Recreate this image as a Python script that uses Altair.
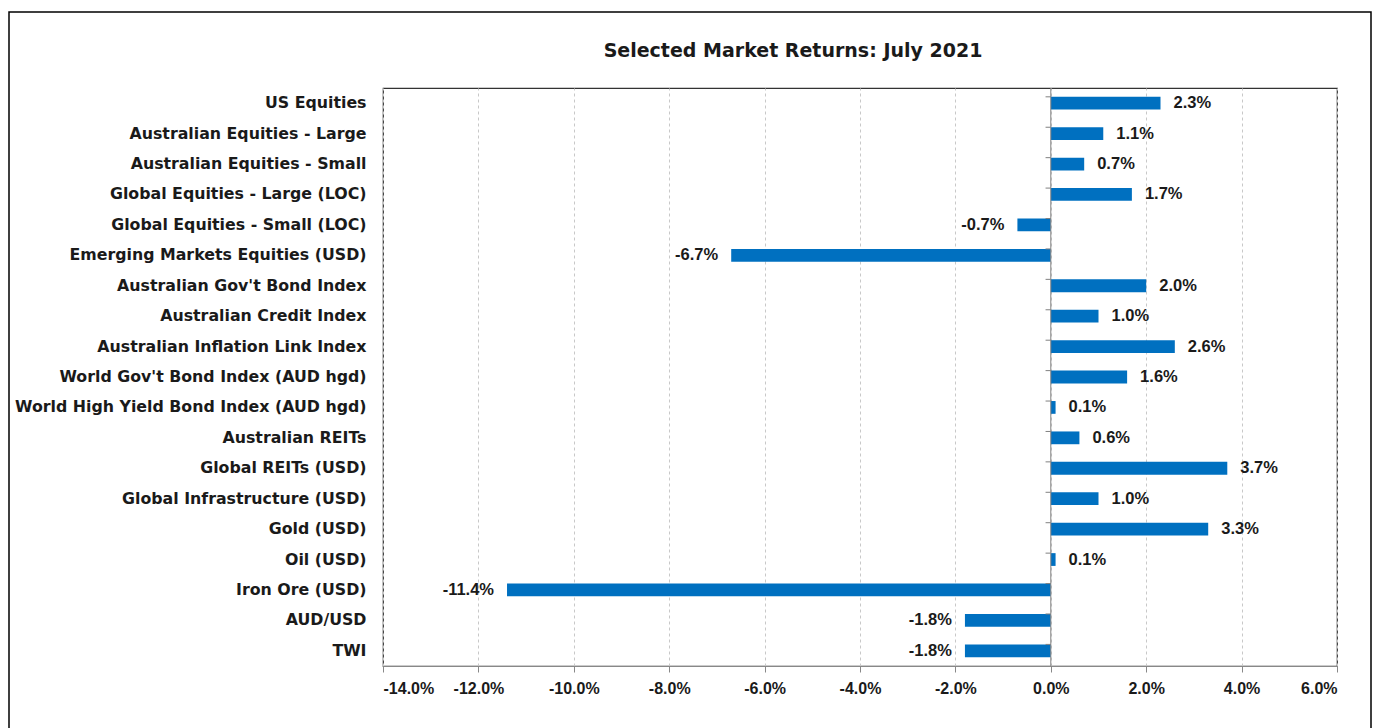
import altair as alt
import pandas as pd

categories = [
    "US Equities",
    "Australian Equities - Large",
    "Australian Equities - Small",
    "Global Equities - Large (LOC)",
    "Global Equities - Small (LOC)",
    "Emerging Markets Equities (USD)",
    "Australian Gov't Bond Index",
    "Australian Credit Index",
    "Australian Inflation Link Index",
    "World Gov't Bond Index (AUD hgd)",
    "World High Yield Bond Index (AUD hgd)",
    "Australian REITs",
    "Global REITs (USD)",
    "Global Infrastructure (USD)",
    "Gold (USD)",
    "Oil (USD)",
    "Iron Ore (USD)",
    "AUD/USD",
    "TWI",
]
returns = [2.3, 1.1, 0.7, 1.7, -0.7, -6.7, 2.0, 1.0, 2.6, 1.6, 0.1, 0.6, 3.7, 1.0, 3.3, 0.1, -11.4, -1.8, -1.8]
x_ticks = [-14, -12, -10, -8, -6, -4, -2, 0, 2, 4, 6]

df = pd.DataFrame({"category": categories, "value": returns})

FONT = "Liberation Sans"
CAT_FONT = "DejaVu Sans"
BLUE = "#0070C0"
PCT = "(datum.value < 0 ? '-' : '') + format(abs(datum.value), '.1f') + '%'"

y_enc = alt.Y(
    "category:N",
    sort=categories,
    scale=alt.Scale(paddingInner=0.58, paddingOuter=0.29),
    axis=alt.Axis(
        title=None, ticks=False, domain=False, labelPadding=17,
        labelFontSize=15.8, labelFont=CAT_FONT, labelFontWeight="bold",
        labelColor="#1a1a1a", labelLimit=500,
    ),
)
x_enc = alt.X(
    "value:Q",
    scale=alt.Scale(domain=[-14, 6], nice=False, zero=False),
    axis=alt.Axis(
        title=None, values=x_ticks,
        labelExpr=PCT,
        grid=True, gridDash=[3, 3], gridColor="#c8c8c8",
        tickSize=6, tickColor="#888888", domainColor="#888888",
        labelPadding=8, labelFontSize=16, labelFont=FONT,
        labelFontWeight="bold", labelColor="#1a1a1a",
    ),
)

base = alt.Chart(df)

bars = base.mark_bar(color=BLUE).encode(x=x_enc, x2=alt.datum(0), y=y_enc)

zero_line = alt.Chart(pd.DataFrame({"z": [0]})).mark_rule(color="#808080", strokeWidth=1).encode(
    x=alt.X("z:Q")
)

cat_ticks = base.mark_rule(color="#808080", strokeWidth=1).encode(
    y=alt.Y("category:N", sort=categories, bandPosition=0),
    x=alt.datum(-0.11),
    x2=alt.datum(0),
)

lab_common = dict(font=FONT, fontSize=16.5, fontWeight="bold", color="#1a1a1a", baseline="middle")
pos_labels = base.transform_filter("datum.value >= 0").transform_calculate(
    lab=PCT
).mark_text(align="left", dx=13, **lab_common).encode(
    x="value:Q", y=alt.Y("category:N", sort=categories), text="lab:N"
)
neg_labels = base.transform_filter("datum.value < 0").transform_calculate(
    lab=PCT
).mark_text(align="right", dx=-13, **lab_common).encode(
    x="value:Q", y=alt.Y("category:N", sort=categories), text="lab:N"
)

frame = alt.Chart(pd.DataFrame({"a": [0]})).mark_rect(
    fill=None, stroke="#000000", strokeWidth=1.5
).encode(
    x=alt.value(-374), x2=alt.value(988), y=alt.value(-76), y2=alt.value(680)
)

chart = alt.layer(frame, bars, zero_line, cat_ticks, pos_labels, neg_labels).properties(
    width=954,
    height=578,
    padding={"left": 383, "top": 88, "right": 38, "bottom": 62},
    autosize=alt.AutoSizeParams(type="none"),
    background="white",
    title=alt.TitleParams(
        "Selected Market Returns: July 2021", font=CAT_FONT, fontSize=19,
        fontWeight="bold", color="#1a1a1a", dx=-67, offset=-50, frame="group",
    ),
).configure_view(stroke="#333333", strokeWidth=1.2)

chart.save("out.html", embed_options={"renderer": "svg", "actions": False})
